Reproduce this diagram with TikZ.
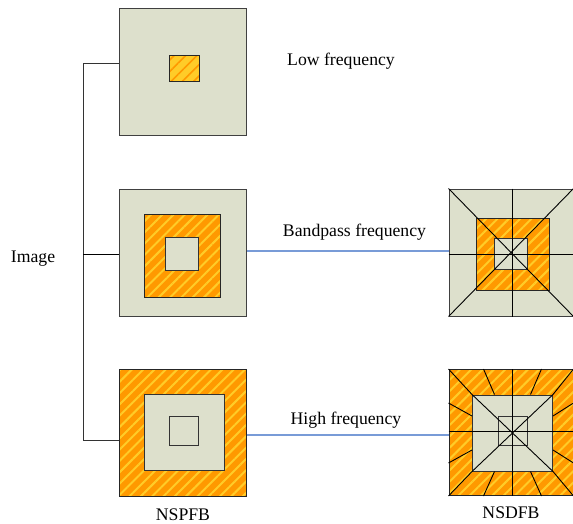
\documentclass[tikz,border=0pt]{standalone}
\usepackage{fontspec}
\setmainfont{Liberation Serif}
\usepackage{tikz}
\usepackage{xcolor}
\usetikzlibrary{positioning,calc,patterns.meta}
\definecolor{paleg}{RGB}{221,224,204}
\definecolor{orng}{RGB}{255,153,0}
\definecolor{yelw}{RGB}{255,204,40}
\definecolor{lnblue}{RGB}{120,155,215}
\tikzset{
  panel/.style={draw=black!75,fill=paleg,line width=1pt,inner sep=0pt,minimum width=127,minimum height=127},
  hatch/.style={draw=black!85,line width=1pt,inner sep=0pt,preaction={fill=orng},
    pattern={Lines[angle=45,distance=8pt,line width=2pt]},pattern color=yelw},
  hatchy/.style={draw=black!85,line width=1pt,inner sep=0pt,preaction={fill=yelw},
    pattern={Lines[angle=45,distance=8pt,line width=1.6pt]},pattern color=orng},
  hole/.style={draw=black!80,fill=paleg,line width=1pt,inner sep=0pt},
  lbl/.style={font=\fontsize{17.7}{20}\selectfont,inner sep=0pt},
  cut/.style={draw=black,line width=0.9pt}
}
\begin{document}
\begin{tikzpicture}[x=1pt,y=-1pt]
\useasboundingbox (0,0) rectangle (573,524);
% NSPFB column
\node[panel] (lf) at (182.5,72) {};
\node[hatchy,minimum width=30,minimum height=26] (lfc) at (184,68.5) {};
\node[panel] (bp) at (182.5,252.5) {};
\node[hatch,minimum width=76,minimum height=83] (bpr) at (182.3,255.8) {};
\node[hole,minimum width=33,minimum height=33] (bpc) at (182.3,254.3) {};
\node[hatch,minimum width=127,minimum height=127] (hf) at (182.5,432.5) {};
\node[hole,minimum width=80,minimum height=76] (hfr) at (184.3,432.8) {};
\node[hole,minimum width=29,minimum height=29] (hfc) at (184,431.3) {};
% NSDFB column
\node[panel,minimum width=124] (dbp) at (511,252.5) {};
\node[hatch,minimum width=73,minimum height=72] (dbpr) at (512.5,254) {};
\node[hole,minimum width=33,minimum height=31] (dbpc) at (511,253.7) {};
\draw[cut] (dbp.north west) -- (dbp.south east);
\draw[cut] (dbp.south west) -- (dbp.north east);
\draw[cut] (dbpr.north |- dbp.north) -- (dbpr.south |- dbp.south);
\draw[cut] (dbp.west |- dbpr.west) -- (dbp.east |- dbpr.east);
\node[hatch,minimum width=124,minimum height=126] (dhf) at (511,432.5) {};
\node[hole,minimum width=80,minimum height=76] (dhfr) at (512.5,433) {};
\node[hole,minimum width=29,minimum height=29] (dhfc) at (512.7,431.2) {};
\draw[cut] (dhf.north west) -- (dhfr.north west);
\draw[cut] (dhf.north east) -- (dhfr.north east);
\draw[cut] (dhf.south west) -- (dhfr.south west);
\draw[cut] (dhf.south east) -- (dhfr.south east);
\draw[cut] (dhfr.north west) -- (dhfr.south east);
\draw[cut] (dhfr.south west) -- (dhfr.north east);
\draw[cut] (dhfr.north |- dhf.north) -- (dhfr.south |- dhf.south);
\draw[cut] (dhf.west |- dhfc.west) -- (dhf.east |- dhfc.east);
\foreach \s in {-1,1} {
  \draw[cut] ($(dhfr.north)+(\s*18,0)$) -- ($(dhfr.north |- dhf.north)+(\s*29,0)$);
  \draw[cut] ($(dhfr.south)+(\s*18,0)$) -- ($(dhfr.south |- dhf.south)+(\s*29,0)$);
  \draw[cut] ($(dhfr.west)+(0,\s*17)$) -- ($(dhf.west |- dhfr.west)+(0,\s*30)$);
  \draw[cut] ($(dhfr.east)+(0,\s*17)$) -- ($(dhf.east |- dhfr.east)+(0,\s*30)$);
}
% tree from the input
\node[lbl] (img) at (33,259) {Image};
\coordinate (b1) at (83,63);
\coordinate (b2) at (83,254);
\coordinate (b3) at (83,440);
\draw[black!80,line width=0.8pt] (lf.west |- b1) -- (b1) -- (b3) -- (hf.west |- b3);
\draw[black,line width=0.8pt] (b2) -- (bp.west |- b2);
\draw[lnblue,line width=1.2pt] (bp.east |- 0,251) -- (dbp.west |- 0,251);
\draw[lnblue,line width=1.2pt] (hf.east |- 0,435) -- (dhf.west |- 0,435);
% labels
\node[lbl] (lowt) at (341,61) {Low frequency};
\node[lbl] (bpt) at (354.5,232) {Bandpass frequency};
\node[lbl] (hit) at (346,420) {High frequency};
\node[lbl] (pfb) at (183,515) {NSPFB};
\node[lbl] (dfb) at (511,513) {NSDFB};
\end{tikzpicture}
\end{document}
